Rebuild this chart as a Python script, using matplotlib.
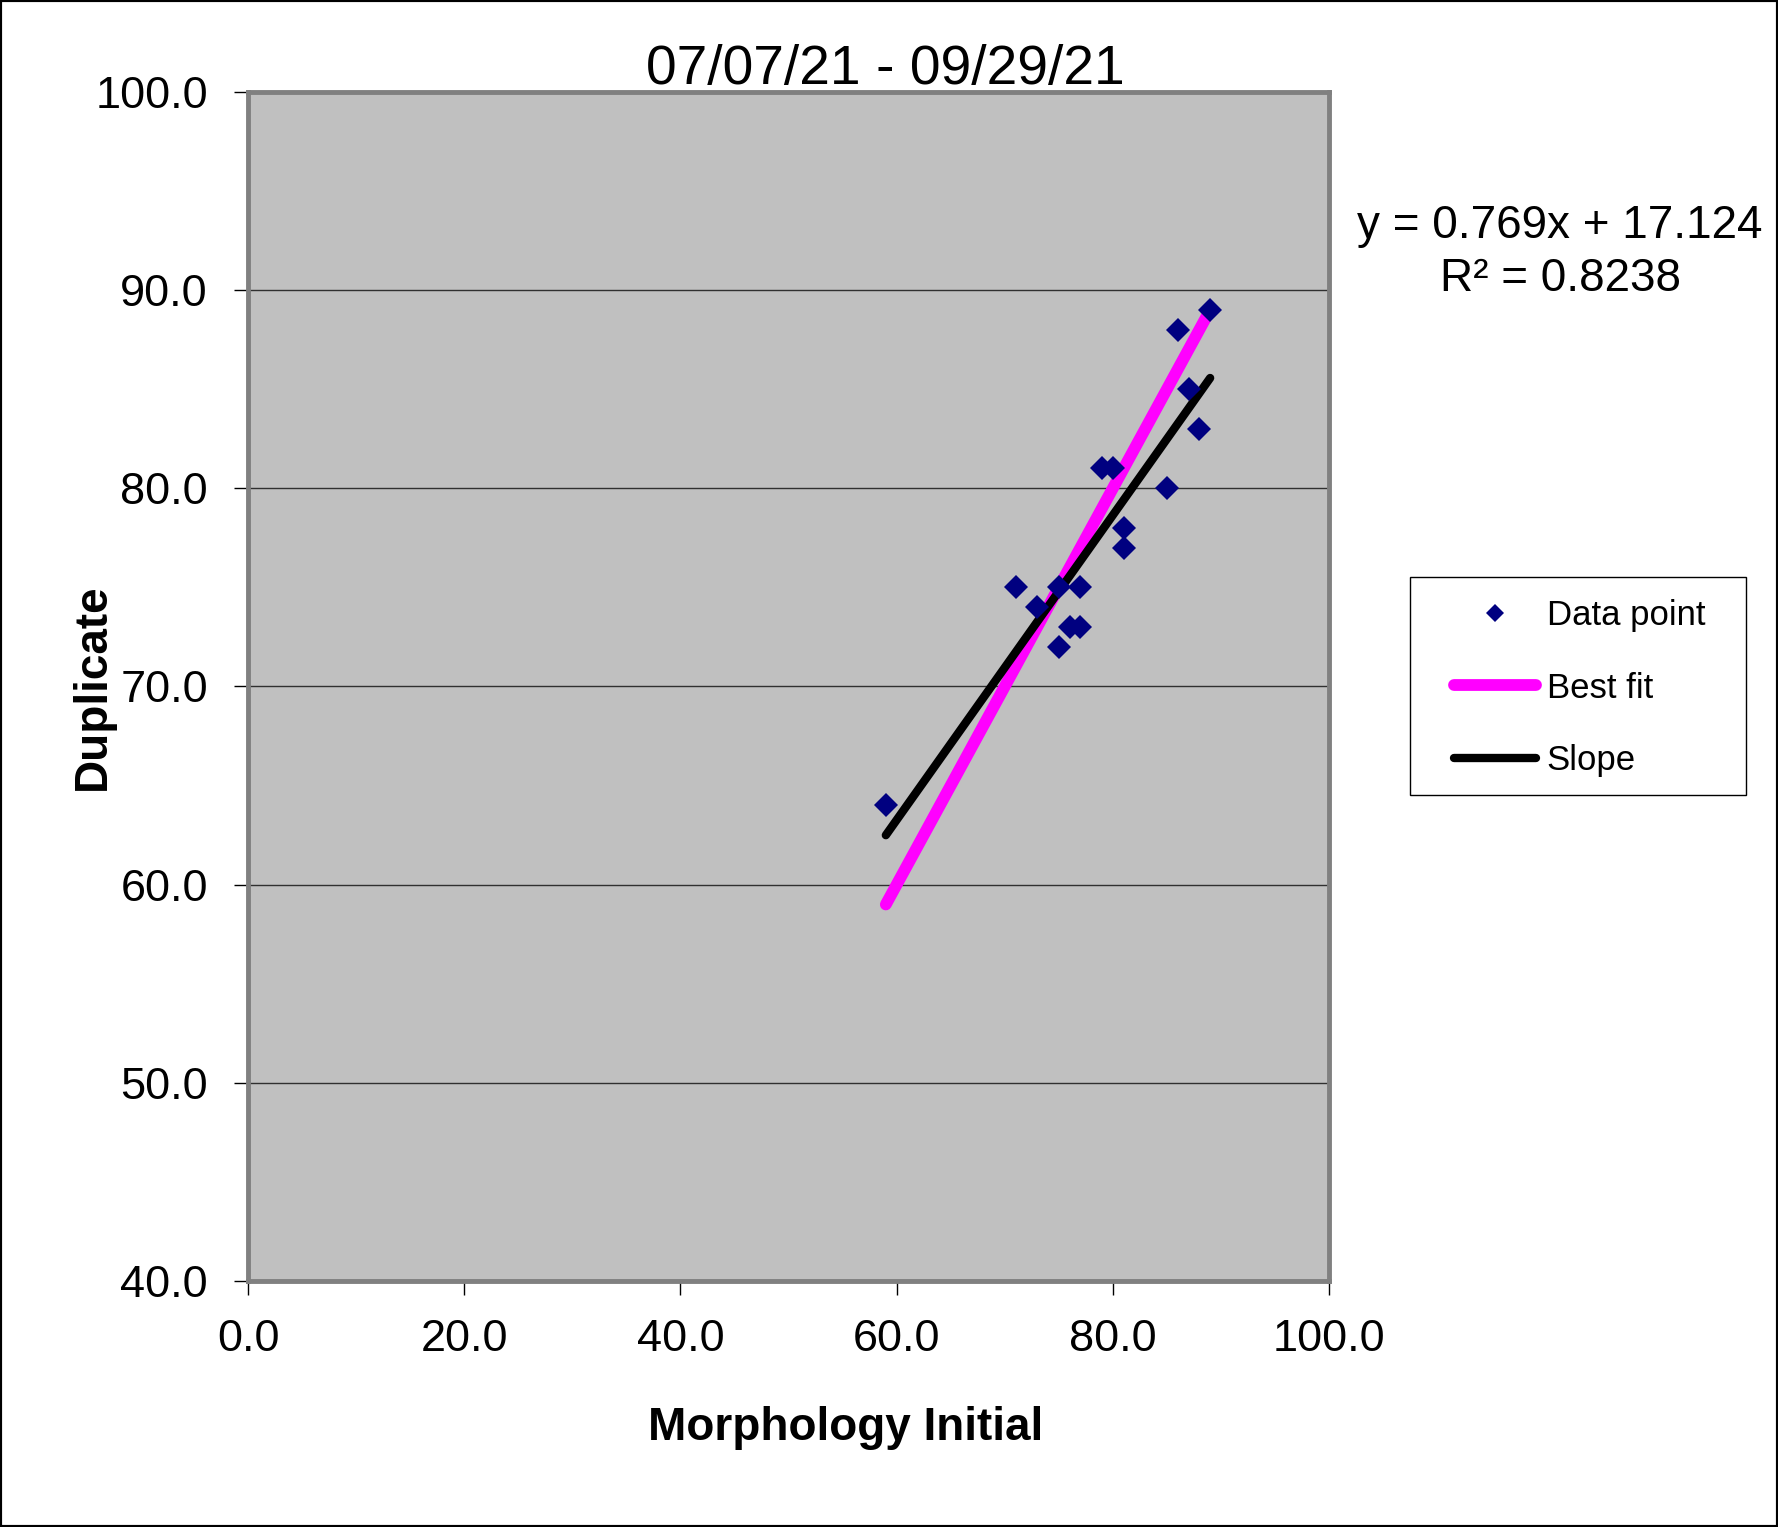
import numpy as np
import matplotlib
matplotlib.use('Agg')
import matplotlib.pyplot as plt
from matplotlib.patches import Rectangle
from matplotlib.ticker import FormatStrFormatter

plt.rcParams['font.family'] = ['Liberation Sans', 'DejaVu Sans']

# data
morphology_initial = [59, 71, 73, 75, 75, 76, 77, 77, 79, 80, 81, 81, 85, 86, 87, 88, 89]
duplicate = [64, 75, 74, 75, 72, 73, 73, 75, 81, 81, 78, 77, 80, 88, 85, 83, 89]

slope_coef = [0.769, 17.124]   # regression: y = 0.769x + 17.124
r_squared = 0.8238
title = '07/07/21 - 09/29/21'
x_ticks = [0, 20, 40, 60, 80, 100]
y_ticks = [40, 50, 60, 70, 80, 90, 100]

fig = plt.figure(figsize=(17.78, 15.27), dpi=100)
ax = fig.add_axes([0.1395, 0.1611, 0.7475 - 0.1395, 0.9398 - 0.1611])
ax.set_facecolor('#C0C0C0')

x_ends = np.array([min(morphology_initial), max(morphology_initial)])

# best fit (y = x) and regression slope
ax.plot(x_ends, x_ends, color='#FF00FF', lw=8.5, solid_capstyle='round',
        label='Best fit', zorder=3)
ax.plot(x_ends, np.polyval(slope_coef, x_ends), color='black', lw=6,
        solid_capstyle='round', label='Slope', zorder=3)
ax.plot(morphology_initial, duplicate, 'D', color='#000080', ms=12.5, mew=0,
        label='Data point', zorder=4)

ax.set_xlim(0, 100)
ax.set_ylim(40, 100)
ax.set_xticks(x_ticks)
ax.set_yticks(y_ticks)
ax.xaxis.set_major_formatter(FormatStrFormatter('%.1f'))
ax.yaxis.set_major_formatter(FormatStrFormatter('%.1f'))
ax.tick_params(axis='y', direction='out', length=10, width=1, labelsize=32.5, pad=19)
ax.tick_params(axis='x', direction='out', length=10, width=1, labelsize=32.5, pad=17)
ax.grid(axis='y', color='#303030', lw=1)
ax.set_axisbelow(True)

for s in ax.spines.values():
    s.set_color('#808080')
    s.set_linewidth(3.5)
ax.axvline(0, color='black', lw=1.5, zorder=2.5)
ax.axhline(40, color='black', lw=1.5, zorder=2.5)

fig.text(0.4978, 0.9450, title, ha='center', va='baseline', fontsize=39.7)
fig.text(0.4755, 0.0570, 'Morphology Initial', ha='center', va='baseline',
         fontsize=33, fontweight='bold')
fig.text(0.0523, 0.5503, 'Duplicate', ha='center', va='center', rotation=90,
         fontsize=33, fontweight='bold')

fig.text(0.8774, 0.8523, 'y = %.3fx + %.3f' % (slope_coef[0], slope_coef[1]),
         ha='center', va='center', fontsize=33)
fig.text(0.8774, 0.8176, 'R\u00b2 = %.4f' % r_squared,
         ha='center', va='center', fontsize=33)

# legend
handles, labels = ax.get_legend_handles_labels()
order = [2, 0, 1]
leg = fig.legend([handles[i] for i in order], [labels[i] for i in order],
                 loc='center left', bbox_to_anchor=(1437 / 1778, 1 - 688 / 1527),
                 frameon=False, fontsize=25, borderpad=0, handlelength=2.36,
                 handletextpad=0.3, labelspacing=1.13, markerscale=0.75)
fig.add_artist(Rectangle((0.7930, 0.4794), 0.1890, 0.1428, transform=fig.transFigure,
                         fill=False, edgecolor='black', lw=1))

# outer border
fig.add_artist(Rectangle((0, 0), 1, 1, transform=fig.transFigure, fill=False,
                         edgecolor='black', lw=3))

fig.savefig('out.png', dpi=100)
